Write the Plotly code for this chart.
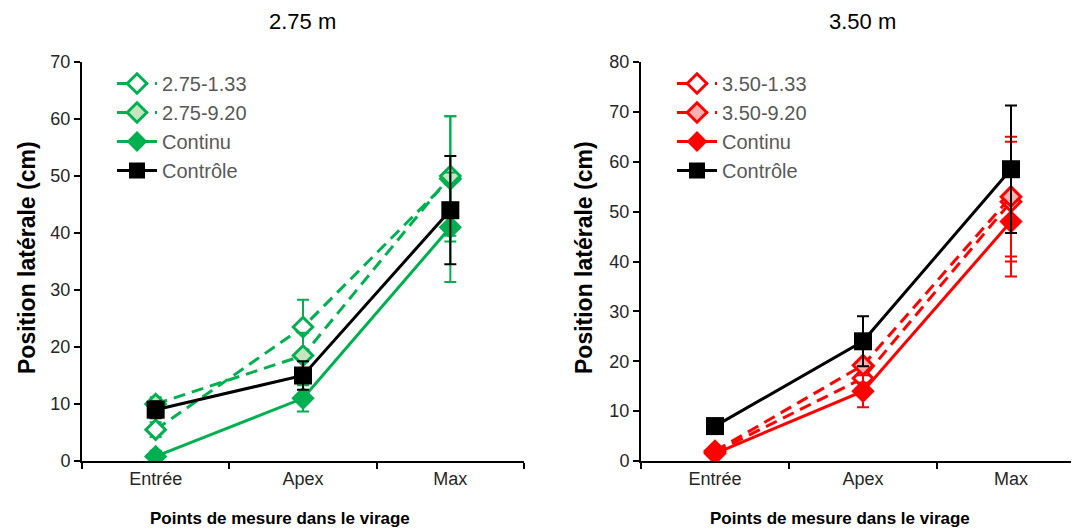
import plotly.graph_objects as go

# page has an 8px body margin: figure coordinates = page coordinates - 8
OFF = 8
W, H = 1079 - OFF, 529 - OFF

categories = ["Entrée", "Apex", "Max"]

# Left panel (2.75 m)
left_names = ["2.75-1.33", "2.75-9.20", "Continu", "Contrôle"]
left_vals = {
    "2.75-1.33": [5.5, 23.5, 49.5],
    "2.75-9.20": [10.0, 18.5, 50.0],
    "Continu": [0.8, 11.0, 41.0],
    "Contrôle": [9.0, 15.0, 44.0],
}
left_err = {
    "2.75-1.33": [1.3, 4.8, 11.0],
    "2.75-9.20": [1.2, 4.0, 10.5],
    "Continu": [1.0, 2.3, 9.6],
    "Contrôle": [1.5, 2.5, 9.5],
}

# Right panel (3.50 m)
right_names = ["3.50-1.33", "3.50-9.20", "Continu", "Contrôle"]
right_vals = {
    "3.50-1.33": [1.8, 16.6, 52.0],
    "3.50-9.20": [2.0, 19.2, 53.0],
    "Continu": [1.5, 14.0, 48.0],
    "Contrôle": [7.0, 24.0, 58.5],
}
right_err = {
    "3.50-1.33": [0.8, 3.0, 12.0],
    "3.50-9.20": [0.8, 3.5, 12.0],
    "Continu": [0.7, 3.2, 11.0],
    "Contrôle": [1.0, 5.0, 12.8],
}

left_ticks = [0, 10, 20, 30, 40, 50, 60, 70]
right_ticks = [0, 10, 20, 30, 40, 50, 60, 70, 80]

GREEN = "#00b050"
RED = "#ff0000"
BLACK = "#000000"
FONT = "Liberation Sans, Arial, sans-serif"


def px_x(p):
    return (p - OFF) / W


def px_y(p):
    return 1 - (p - OFF) / H


def style(name, color, light):
    if name == "Contrôle":
        return dict(color=BLACK, dash="solid", symbol="square", size=18, fill=BLACK, lw=0)
    if name == "Continu":
        return dict(color=color, dash="solid", symbol="diamond", size=18, fill=color, lw=0)
    if name.endswith("1.33"):
        return dict(color=color, dash="12px,7px", symbol="diamond", size=15, fill="white", lw=3)
    return dict(color=color, dash="12px,7px", symbol="diamond", size=15, fill=light, lw=3)


fig = go.Figure()


def add_panel(names, vals, errs, color, light, xa, ya, legend):
    for i, n in enumerate(names):
        s = style(n, color, light)
        fig.add_trace(go.Scatter(
            x=categories, y=vals[n], name=n, mode="lines+markers",
            xaxis=xa, yaxis=ya, legend=legend, legendgroup=legend + str(i),
            line=dict(color=s["color"], width=3, dash=s["dash"]),
            marker=dict(symbol=s["symbol"], size=s["size"], color=s["fill"],
                        line=dict(color=s["color"], width=s["lw"])),
            error_y=dict(type="data", array=errs[n], visible=True,
                         color=s["color"], thickness=2, width=6),
        ))


add_panel(left_names, left_vals, left_err, GREEN, "#c5e5c0", "x", "y", "legend")
add_panel(right_names, right_vals, right_err, RED, "#ffb0b0", "x2", "y2", "legend2")

y0 = px_y(461)
y1 = px_y(62)
axis_common = dict(showline=True, linecolor="black", linewidth=2, showgrid=False,
                   zeroline=False, ticks="outside", tickcolor="black", ticklen=6,
                   tickwidth=1.5, tickfont=dict(family=FONT, size=18, color="#262626"),
                   automargin=False, fixedrange=True)

legend_common = dict(xanchor="left", yanchor="top", bgcolor="rgba(0,0,0,0)",
                     font=dict(family=FONT, size=20, color="#595959"),
                     traceorder="grouped", tracegroupgap=0, itemwidth=40)

fig.update_layout(
    width=W, height=H,
    margin=dict(l=0, r=0, t=0, b=0),
    paper_bgcolor="white", plot_bgcolor="white",
    font=dict(family=FONT),
    xaxis=dict(domain=[px_x(82), px_x(524)], range=[-0.5, 2.5], type="category",
               tickson="boundaries", anchor="y", **axis_common),
    yaxis=dict(domain=[y0, y1], range=[0, 70], tickvals=left_ticks, anchor="x",
               **axis_common),
    xaxis2=dict(domain=[px_x(641), 1.0], range=[-0.5, -0.5 + (1079 - 641) / 148.0],
                type="category", tickson="boundaries", anchor="y2", **axis_common),
    yaxis2=dict(domain=[y0, y1], range=[0, 80], tickvals=right_ticks, anchor="x2",
                **axis_common),
    legend=dict(x=px_x(112), y=px_y(64), **legend_common),
    legend2=dict(x=px_x(672), y=px_y(64), **legend_common),
    showlegend=True,
)

annots = [
    dict(text="Position latérale (cm)", x=27, y=258, size=23, bold=True, angle=-90),
    dict(text="Position latérale (cm)", x=584, y=258, size=23, bold=True, angle=-90),
    dict(text="Points de mesure dans le virage", x=280, y=518, size=17, bold=True, angle=0),
    dict(text="Points de mesure dans le virage", x=840, y=518, size=17, bold=True, angle=0),
]
for a in annots:
    fig.add_annotation(
        text=("<b>%s</b>" % a["text"]) if a["bold"] else a["text"],
        xref="paper", yref="paper", x=px_x(a["x"]), y=px_y(a["y"]), showarrow=False,
        xanchor="center", yanchor="middle", textangle=a["angle"],
        font=dict(family=FONT, size=a["size"], color="black"),
    )

panel_titles = [("2.75 m", 302), ("3.50 m", 862)]
for t, xc in panel_titles:
    fig.add_annotation(
        text=t, xref="paper", yref="paper", x=px_x(xc), y=1.0, showarrow=False,
        xanchor="center", yanchor="top", borderpad=0,
        font=dict(family=FONT, size=22, color="black"),
    )

fig.write_html("out.html")
